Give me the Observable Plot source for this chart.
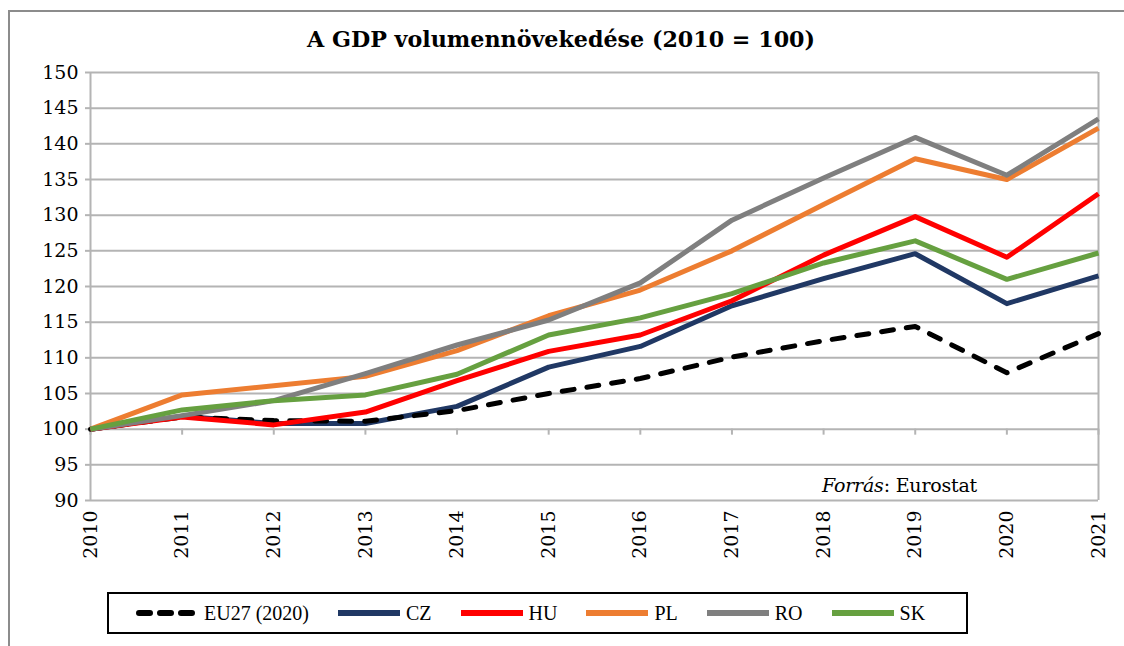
<!DOCTYPE html>
<html>
<head>
<meta charset="utf-8">
<script src="https://cdn.jsdelivr.net/npm/d3@7"></script>
<script src="https://cdn.jsdelivr.net/npm/@observablehq/plot@0.6"></script>
<style>
  html, body { margin: 0; padding: 0; background: #fff; }
  #wrap { position: relative; width: 1124px; height: 646px; overflow: hidden; background: #fff; }
  #frame { position: absolute; left: 8px; top: 10px; width: 1200px; height: 700px; border-left: 2px solid #8c8c8c; border-top: 2px solid #8c8c8c; box-sizing: border-box; }
  #title { position: absolute; left: 0; top: 0; }
  #chart { position: absolute; left: 0; top: 60px; }
  #source { position: absolute; left: 822px; top: 475px; font-family: "DejaVu Serif", serif; font-size: 19px; line-height: 20px; color: #000; white-space: nowrap; letter-spacing: -0.2px; }
  #legend { position: absolute; left: 107px; top: 592px; width: 861px; height: 42px; border: 2px solid #000; box-sizing: border-box; display: flex; align-items: center; padding-left: 27px; font-family: "Liberation Serif", serif; font-size: 20px; color: #000; }
  .item { display: flex; align-items: center; margin-right: 29px; white-space: nowrap; }
  .item svg { margin-right: 6px; }
</style>
</head>
<body>
<div id="wrap">
  <div id="frame"></div>
  <svg id="title" width="1124" height="60">
    <text x="561" y="47" text-anchor="middle" font-family="DejaVu Serif" font-weight="bold" font-size="23" textLength="508" lengthAdjust="spacingAndGlyphs">A GDP volumennövekedése (2010 = 100)</text>
  </svg>
  <div id="chart"></div>
  <div id="source"><i>Forrás</i>: Eurostat</div>
  <div id="legend"></div>
</div>
<script>
// ---- data ----
const years = [2010, 2011, 2012, 2013, 2014, 2015, 2016, 2017, 2018, 2019, 2020, 2021];
const EU = [100, 101.7, 101.2, 101.1, 102.6, 105.0, 107.1, 110.1, 112.4, 114.4, 107.9, 113.4];
const CZ = [100, 101.8, 100.8, 100.8, 103.2, 108.7, 111.6, 117.3, 121.1, 124.6, 117.6, 121.5];
const HU = [100, 101.7, 100.6, 102.4, 106.8, 110.9, 113.2, 118.0, 124.4, 129.8, 124.1, 133.0];
const PL = [100, 104.8, 106.1, 107.4, 111.0, 115.9, 119.5, 125.0, 131.5, 137.9, 135.0, 142.2];
const RO = [100, 101.9, 104.0, 107.8, 111.8, 115.3, 120.5, 129.3, 135.2, 140.9, 135.6, 143.5];
const SK = [100, 102.7, 104.0, 104.8, 107.7, 113.2, 115.6, 119.0, 123.3, 126.4, 121.0, 124.7];
const yTicks = [90, 95, 100, 105, 110, 115, 120, 125, 130, 135, 140, 145, 150];

const legendOrder = ["EU27 (2020)", "CZ", "HU", "PL", "RO", "SK"];
const seriesValues = {"EU27 (2020)": EU, "CZ": CZ, "HU": HU, "PL": PL, "RO": RO, "SK": SK};
const colors = {"EU27 (2020)": "#000000", "CZ": "#203864", "HU": "#ff0000", "PL": "#ed7d31", "RO": "#7f7f7f", "SK": "#66a040"};
const dashes = {"EU27 (2020)": "12,13"};
// drawing order (bottom to top)
const drawOrder = ["CZ", "EU27 (2020)", "HU", "PL", "RO", "SK"];

const rows = legendOrder.flatMap(s => years.map((yr, i) => ({series: s, year: yr, value: seriesValues[s][i]})));

const grey = "#b4b4b4";
const lineMarks = drawOrder.map(s => Plot.line(rows.filter(d => d.series === s), {
  x: "year", y: "value",
  stroke: colors[s], strokeWidth: 5,
  strokeDasharray: dashes[s] || null,
  strokeLinecap: dashes[s] ? "round" : "butt",
  strokeLinejoin: "round"
}));

const chart = Plot.plot({
  width: 1124, height: 520,
  marginLeft: 90, marginRight: 26, marginTop: 12, marginBottom: 80,
  x: {domain: [2010, 2021]},
  y: {domain: [90, 150]},
  style: {fontFamily: "DejaVu Serif", fontSize: "19px", color: "#000", background: "transparent", overflow: "visible"},
  marks: [
    Plot.gridY(yTicks, {stroke: grey, strokeOpacity: 1, strokeWidth: 2}),
    Plot.ruleX([years[0], years[years.length - 1]], {stroke: grey, strokeWidth: 2}),
    Plot.ruleX(years, {y1: 100, y2: 100, insetBottom: -6, stroke: grey, strokeWidth: 2}),
    Plot.axisY(yTicks, {tickSize: 5, tickPadding: 7, stroke: grey, strokeWidth: 2, fill: "#000", label: null}),
    Plot.axisX(years, {tickSize: 0, tickPadding: 10, tickRotate: -90, tickFormat: "d", fill: "#000", label: null}),
    ...lineMarks
  ]
});
document.getElementById("chart").appendChild(chart);

// legend
const legend = document.getElementById("legend");
for (const s of legendOrder) {
  const item = document.createElement("div");
  item.className = "item";
  const ns = "http://www.w3.org/2000/svg";
  const sw = document.createElementNS(ns, "svg");
  sw.setAttribute("width", 62); sw.setAttribute("height", 12);
  const ln = document.createElementNS(ns, "line");
  const isDash = !!dashes[s];
  ln.setAttribute("x1", isDash ? 3 : 0); ln.setAttribute("x2", 62);
  ln.setAttribute("y1", 6); ln.setAttribute("y2", 6);
  ln.setAttribute("stroke", colors[s]);
  ln.setAttribute("stroke-width", 6);
  ln.setAttribute("stroke-linecap", "round");
  if (isDash) ln.setAttribute("stroke-dasharray", "11,10");
  sw.appendChild(ln);
  item.appendChild(sw);
  const t = document.createElement("span");
  t.textContent = s;
  item.appendChild(t);
  legend.appendChild(item);
}
</script>
</body>
</html>
